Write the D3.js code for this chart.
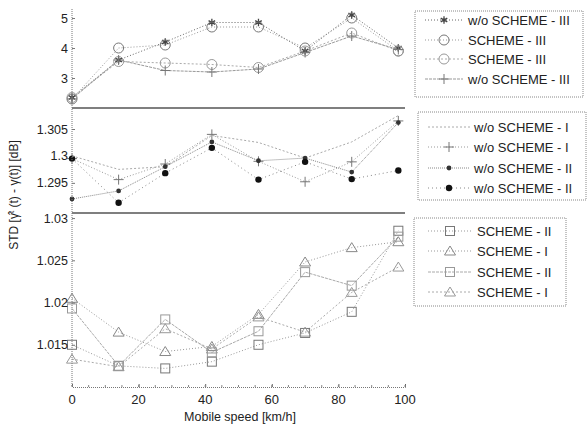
<!DOCTYPE html>
<html><head><meta charset="utf-8">
<script src="https://cdn.jsdelivr.net/npm/d3@7"></script>
<style>
body{margin:0;background:#fff}
text{font-family:"Liberation Sans",Arial,sans-serif;fill:#222}
</style>
</head><body>
<svg id="c" width="587" height="426"></svg>
<script>
// ---------------- DATA ----------------
const speeds = [0, 14, 28, 42, 56, 70, 84, 98];
const xTicks = [0, 20, 40, 60, 80, 100];
const xLabel = "Mobile speed [km/h]";

const topNames = ["w/o SCHEME - III", "SCHEME - III", "SCHEME - III", "w/o SCHEME - III"];
const topA = [2.35, 3.60, 4.20, 4.85, 4.85, 3.90, 5.10, 4.00];
const topB = [2.30, 4.00, 4.10, 4.70, 4.70, 4.00, 5.00, 3.90];
const topC = [2.35, 3.55, 3.50, 3.45, 3.35, 3.90, 4.50, 3.90];
const topD = [2.30, 3.60, 3.25, 3.20, 3.30, 3.85, 4.40, 3.95];
const topTicks = [3, 4, 5];

const midNames = ["w/o SCHEME - I", "w/o SCHEME - I", "w/o SCHEME - II", "w/o SCHEME - II"];
const midA = [1.3000, 1.2975, 1.2980, 1.3038, 1.3025, 1.2996, 1.3026, 1.3075];
const midB = [1.2995, 1.2956, 1.2985, 1.3040, 1.2990, 1.2952, 1.2989, 1.3065];
const midC = [1.2920, 1.2935, 1.2980, 1.3026, 1.2991, 1.2996, 1.2970, 1.3062];
const midD = [1.2995, 1.2913, 1.2968, 1.3015, 1.2956, 1.2989, 1.2957, 1.2973];
const midTicks = [1.295, 1.3, 1.305];

const botNames = ["SCHEME - II", "SCHEME - I", "SCHEME - II", "SCHEME - I"];
const botA = [1.0150, 1.0125, 1.0122, 1.0130, 1.0150, 1.0164, 1.0189, 1.0285];
const botB = [1.0205, 1.0165, 1.0142, 1.0148, 1.0186, 1.0248, 1.0265, 1.0272];
const botC = [1.0193, 1.0125, 1.0180, 1.0141, 1.0166, 1.0236, 1.0220, 1.0278];
const botD = [1.0133, 1.0124, 1.0169, 1.0145, 1.0183, 1.0165, 1.0212, 1.0242];
const botTicks = [1.015, 1.02, 1.025, 1.03];

// ---------------- STYLES ----------------
const topStyle = [
  {sym: "asterisk", dash: "1,2", color: "#666", mcolor: "#444"},
  {sym: "circle", dash: "1,2", color: "#999", mcolor: "#777"},
  {sym: "circle", dash: "2,2", color: "#aaa", mcolor: "#999"},
  {sym: "plus", dash: "3,1", color: "#999", mcolor: "#777"}
];
const midStyle = [
  {sym: "none", dash: "2,2", color: "#aaa", mcolor: "#999"},
  {sym: "plus", dash: "1,2", color: "#999", mcolor: "#777"},
  {sym: "dot", dash: "1,1", color: "#888", mcolor: "#333", r: 2.4},
  {sym: "dot", dash: "1,3", color: "#888", mcolor: "#111", r: 3.2}
];
const botStyle = [
  {sym: "square", dash: "1,2", color: "#999", mcolor: "#777"},
  {sym: "triangle", dash: "1,2", color: "#999", mcolor: "#888"},
  {sym: "square", dash: "3,1", color: "#aaa", mcolor: "#999"},
  {sym: "triangle", dash: "2,2", color: "#aaa", mcolor: "#999"}
];

// ---------------- LAYOUT ----------------
const svg = d3.select("#c");
const x = d3.scaleLinear().domain([0, 100]).range([72, 405]);
const yTop = d3.scaleLinear().domain([2, 5.3]).range([108, 9]);
const yMid = d3.scaleLinear().domain([1.2894, 1.3089]).range([213, 108]);
const yBot = d3.scaleLinear().domain([1.010, 1.0306]).range([387, 213]);

function marker(g, sym, cx, cy, st) {
  const c = st.mcolor;
  if (sym === "circle") {
    g.append("circle").attr("cx", cx).attr("cy", cy).attr("r", 5)
      .attr("fill", "none").attr("stroke", c).attr("stroke-width", 1);
  } else if (sym === "dot") {
    g.append("circle").attr("cx", cx).attr("cy", cy).attr("r", st.r || 3).attr("fill", c);
  } else if (sym === "square") {
    g.append("rect").attr("x", cx - 4.5).attr("y", cy - 4.5).attr("width", 9).attr("height", 9)
      .attr("fill", "none").attr("stroke", c).attr("stroke-width", 1);
  } else if (sym === "triangle") {
    g.append("path").attr("d", `M${cx},${cy - 5}L${cx + 5.5},${cy + 4}L${cx - 5.5},${cy + 4}Z`)
      .attr("fill", "none").attr("stroke", c).attr("stroke-width", 1);
  } else if (sym === "plus") {
    g.append("path").attr("d", `M${cx - 5},${cy}H${cx + 5}M${cx},${cy - 5}V${cx === cx ? cy + 5 : 0}`)
      .attr("stroke", c).attr("stroke-width", 1);
  } else if (sym === "asterisk") {
    g.append("path").attr("d", d3.symbol(d3.symbolAsterisk, 40)())
      .attr("transform", `translate(${cx},${cy})`).attr("stroke", c).attr("stroke-width", 1.3).attr("fill", "none");
    g.append("circle").attr("cx", cx).attr("cy", cy).attr("r", 1.5).attr("fill", c);
  }
}

function drawPanel(series, styles, y) {
  const line = d3.line().x((d, i) => x(speeds[i])).y(d => y(d));
  series.forEach((vals, k) => {
    const st = styles[k];
    svg.append("path").datum(vals).attr("d", line)
      .attr("fill", "none").attr("stroke", st.color).attr("stroke-width", 1)
      .attr("stroke-dasharray", st.dash);
  });
  series.forEach((vals, k) => {
    const st = styles[k];
    if (st.sym === "none") return;
    const g = svg.append("g");
    vals.forEach((v, i) => marker(g, st.sym, x(speeds[i]), y(v), st));
  });
}

drawPanel([topA, topB, topC, topD], topStyle, yTop);
drawPanel([midA, midB, midC, midD], midStyle, yMid);
drawPanel([botA, botB, botC, botD], botStyle, yBot);

// separator lines
[yTop(2), yMid.range()[0]].forEach(yy => {
  svg.append("line").attr("x1", 72).attr("x2", 405).attr("y1", yy).attr("y2", yy)
    .attr("stroke", "#555").attr("stroke-width", 1.3);
});

// y axis line
svg.append("line").attr("x1", 72).attr("x2", 72).attr("y1", 9).attr("y2", 387)
  .attr("stroke", "#777").attr("stroke-width", 1).attr("stroke-dasharray", "1,1");

function yAxis(scale, ticks) {
  const g = svg.append("g").attr("transform", "translate(72,0)");
  const ax = d3.axisRight(scale).tickValues(ticks).tickSize(3).tickFormat("");
  g.call(ax);
  g.select(".domain").remove();
  g.selectAll(".tick line").attr("stroke", "#777");
  ticks.forEach(t => {
    svg.append("text").attr("x", 68).attr("y", scale(t)).attr("dy", "0.36em")
      .attr("text-anchor", "end").attr("font-size", 12.5).text(d3.format("~g")(t));
  });
}
yAxis(yTop, topTicks);
yAxis(yMid, midTicks);
yAxis(yBot, botTicks);

// x axis
const xg = svg.append("g").attr("transform", "translate(0,387)");
xg.call(d3.axisTop(x).tickValues(xTicks).tickSize(3).tickFormat(""));
xg.select(".domain").attr("stroke", "#777").attr("stroke-dasharray", "1,1");
xg.selectAll(".tick line").attr("stroke", "#666");
xg.call(g => g.selectAll(".minor").data(d3.range(0, 101, 5)).join("line")
  .attr("class", "minor").attr("x1", d => x(d)).attr("x2", d => x(d)).attr("y1", 0).attr("y2", -2)
  .attr("stroke", "#888"));
xTicks.forEach(t => {
  svg.append("text").attr("x", x(t)).attr("y", 404).attr("text-anchor", "middle")
    .attr("font-size", 13).text(t);
});
svg.append("text").attr("x", 240).attr("y", 421).attr("text-anchor", "middle")
  .attr("font-size", 12.5).text(xLabel);

// y label
const yl = svg.append("text").attr("transform", "translate(18,195) rotate(-90)")
  .attr("text-anchor", "middle").attr("font-size", 12);
yl.append("tspan").text("STD [γ̂");
yl.append("tspan").attr("baseline-shift", "super").attr("font-size", 8).text("t");
yl.append("tspan").text(" (t) - γ(t)] [dB]");

// legends
function legend(names, styles, bx, by, bw, bh, rows, sx1, sx2, tx) {
  svg.append("rect").attr("x", bx).attr("y", by).attr("width", bw).attr("height", bh)
    .attr("fill", "#fff").attr("stroke", "#888").attr("stroke-width", 1).attr("stroke-dasharray", "1,1");
  names.forEach((n, i) => {
    const st = styles[i];
    const yy = rows[i];
    svg.append("line").attr("x1", sx1).attr("x2", sx2).attr("y1", yy).attr("y2", yy)
      .attr("stroke", st.color).attr("stroke-dasharray", st.dash);
    if (st.sym !== "none") marker(svg.append("g"), st.sym, (sx1 + sx2) / 2, yy, st);
    svg.append("text").attr("x", tx).attr("y", yy).attr("dy", "0.36em")
      .attr("font-size", 13).text(n);
  });
}
legend(topNames, topStyle, 415, 11, 168, 86, [20, 40, 59, 79], 425, 463, 468);
legend(midNames, midStyle, 418, 112, 168, 88, [127, 147, 168, 188], 428, 470, 474);
legend(botNames, botStyle, 414, 218, 152, 88, [231, 251, 272, 292], 428, 472, 477);
</script>
</body></html>
